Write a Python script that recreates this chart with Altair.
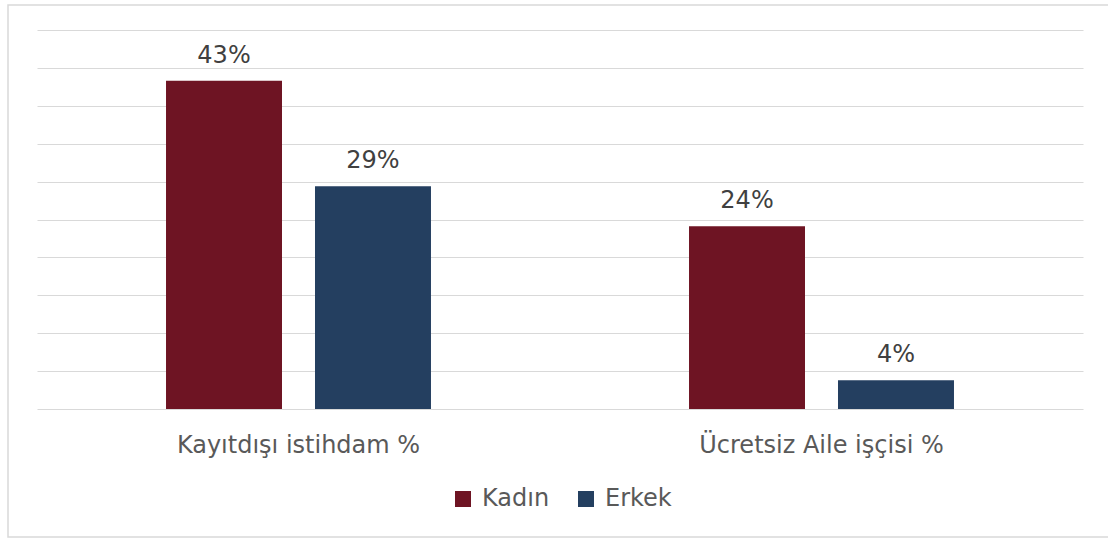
import altair as alt
import pandas as pd

categories = ["Kayıtdışı istihdam %", "Ücretsiz Aile işçisi %"]
series = ["Kadın", "Erkek"]
kadin = [43.3, 24.1]
erkek = [29.4, 3.8]
colors = ["#6E1423", "#243F60"]

rows = []
for i, c in enumerate(categories):
    rows.append({"cat": c, "sex": "Kadın", "value": kadin[i]})
    rows.append({"cat": c, "sex": "Erkek", "value": erkek[i]})
df = pd.DataFrame(rows)

W, H = 1046, 379
FONT = "DejaVu Sans"
FS = 24

yenc = alt.Y("value:Q", title=None,
             scale=alt.Scale(domain=[0, 50], nice=False),
             axis=alt.Axis(values=list(range(0, 51, 5)), labels=False, ticks=False,
                           domain=False, grid=True, gridColor="#D9D9D9", gridWidth=1))

base = alt.Chart(df).encode(
    x=alt.X("cat:N", sort=categories, title=None,
            scale=alt.Scale(paddingInner=0, paddingOuter=0),
            axis=alt.Axis(labelAngle=0, domain=False, ticks=False, tickSize=0,
                          labelPadding=43, labelFontSize=FS, labelFont=FONT,
                          labelLimit=0,
                          labelColor="#595959", labelBaseline="alphabetic")),
    xOffset=alt.XOffset("sex:N", sort=series,
                        scale=alt.Scale(paddingInner=0.2215, paddingOuter=0.866)),
    y=yenc,
)

bars = base.mark_bar().encode(
    color=alt.Color("sex:N", sort=series,
                    scale=alt.Scale(domain=series, range=colors),
                    legend=alt.Legend(title=None, orient="none", direction="horizontal",
                                      legendX=414, legendY=457, symbolType="square",
                                      symbolSize=256, symbolStrokeWidth=0,
                                      labelFont=FONT, labelFontSize=FS,
                                      labelColor="#595959", labelOffset=7,
                                      columnPadding=24)),
)

labels = base.mark_text(baseline="alphabetic", dy=-18, font=FONT, fontSize=FS,
                        color="#404040").transform_calculate(
    pct="datum.value / 100"
).encode(
    text=alt.Text("pct:Q", format=".0%"),
)

border = alt.Chart(alt.Data(values=[{"a": 1}])).mark_rect(
    fill="transparent", stroke="#D9D9D9", strokeWidth=1.5
).encode(
    x=alt.value(-29), x2=alt.value(W + 40),
    y=alt.value(-25), y2=alt.value(507),
)

chart = alt.layer(border, bars, labels).properties(
    width=W, height=H,
    background="white",
    autosize=alt.AutoSizeParams(type="none"),
    padding={"left": 37, "top": 30, "right": 25, "bottom": 130},
).configure_view(strokeWidth=0, stroke="transparent")

chart.save("out.html", embed_options={"renderer": "svg", "actions": False})
